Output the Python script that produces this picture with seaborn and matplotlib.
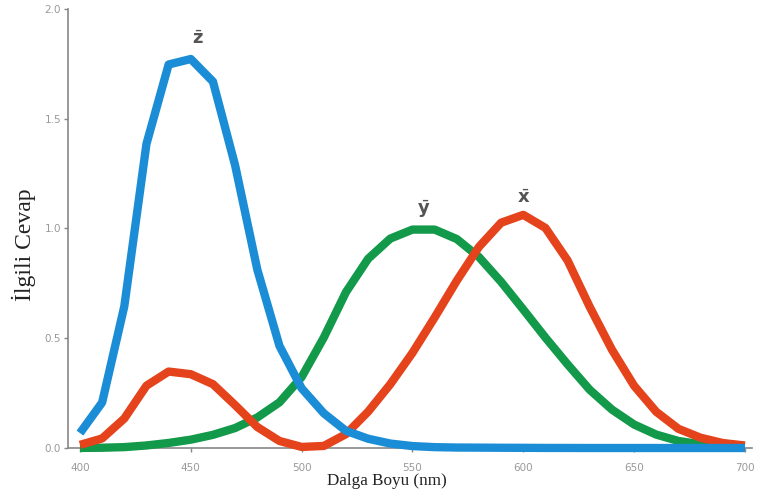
import numpy as np
import pandas as pd
import matplotlib
matplotlib.use("Agg")
import matplotlib.pyplot as plt
import seaborn as sns

wavelength = list(range(400, 701, 10))
x_bar = [0.0143, 0.0435, 0.1344, 0.2839, 0.3483, 0.3362, 0.2908, 0.1954, 0.0956, 0.0320,
         0.0049, 0.0093, 0.0633, 0.1655, 0.2904, 0.4334, 0.5945, 0.7621, 0.9163, 1.0263,
         1.0622, 1.0026, 0.8544, 0.6424, 0.4479, 0.2835, 0.1649, 0.0874, 0.0468, 0.0227, 0.0114]
y_bar = [0.0004, 0.0012, 0.0040, 0.0116, 0.0230, 0.0380, 0.0600, 0.0910, 0.1390, 0.2080,
         0.3230, 0.5030, 0.7100, 0.8620, 0.9540, 0.9950, 0.9950, 0.9520, 0.8700, 0.7570,
         0.6310, 0.5030, 0.3810, 0.2650, 0.1750, 0.1070, 0.0610, 0.0320, 0.0170, 0.0082, 0.0041]
z_bar = [0.0679, 0.2074, 0.6456, 1.3856, 1.7471, 1.7721, 1.6692, 1.2876, 0.8130, 0.4652,
         0.2720, 0.1582, 0.0782, 0.0422, 0.0203, 0.0088, 0.0039, 0.0021, 0.0017, 0.0011,
         0.0008, 0.0003, 0.0002, 0.0000, 0.0000, 0.0000, 0.0000, 0.0000, 0.0000, 0.0000, 0.0000]
x_ticks = [400, 450, 500, 550, 600, 650, 700]
y_ticks = [0.0, 0.5, 1.0, 1.5, 2.0]

sns.set_style("white")
plt.rcParams['mathtext.fontset'] = 'dejavusans'

fig = plt.figure(figsize=(7.59, 4.99), dpi=100)
ax = fig.add_axes([0.0896, 0.1022, 0.9012, 0.8798])

colors = {"x": "#e5431c", "y": "#13994a", "z": "#1b8dd6"}
lw = 6
kw = dict(linewidth=lw, clip_on=False, solid_joinstyle="round", solid_capstyle="butt")
sns.lineplot(x=wavelength, y=y_bar, ax=ax, color=colors["y"], zorder=3, **kw)
sns.lineplot(x=wavelength, y=x_bar, ax=ax, color=colors["x"], zorder=4, **kw)
sns.lineplot(x=wavelength, y=z_bar, ax=ax, color=colors["z"], zorder=5, **kw)

ax.set_xlim(394.6, 703.2)
ax.set_ylim(0, 2.0)
ax.set_xticks(x_ticks)
ax.set_yticks(y_ticks)
ax.set_xticklabels([str(t) for t in x_ticks])
ax.set_yticklabels([f"{t:.1f}" for t in y_ticks])

for s in ["top", "right"]:
    ax.spines[s].set_visible(False)
for s in ["left", "bottom"]:
    ax.spines[s].set_color("#888888")
    ax.spines[s].set_linewidth(1.2)

ax.tick_params(axis="both", colors="#888888", labelcolor="#999999", labelsize=7.5,
               length=3, width=1, direction="out", left=True, bottom=True)
ax.tick_params(axis="x", pad=8)
ax.tick_params(axis="y", pad=2)

ax.text(453, 1.82, r"$\bar{\mathbf{z}}$", color="#555555", fontsize=13, ha="center", va="bottom")
ax.text(555, 1.04, r"$\bar{\mathbf{y}}$", color="#555555", fontsize=13, ha="center", va="bottom")
ax.text(600, 1.10, r"$\bar{\mathbf{x}}$", color="#555555", fontsize=13, ha="center", va="bottom")

xlab = ax.set_xlabel("Dalga Boyu (nm)", family="Liberation Serif", fontsize=12.3, color="#222222")
xlab.set_verticalalignment("center")
ax.xaxis.set_label_coords((387 - 68) / 684, -(481 - 448) / 439)
ylab = ax.set_ylabel("İlgili Cevap", family="Liberation Serif", fontsize=17, color="#222222")
ylab.set_verticalalignment("center")
ax.yaxis.set_label_coords(-(68 - 24) / 684, (448 - 245) / 439)

fig.savefig("out.png", dpi=100, facecolor="white")
